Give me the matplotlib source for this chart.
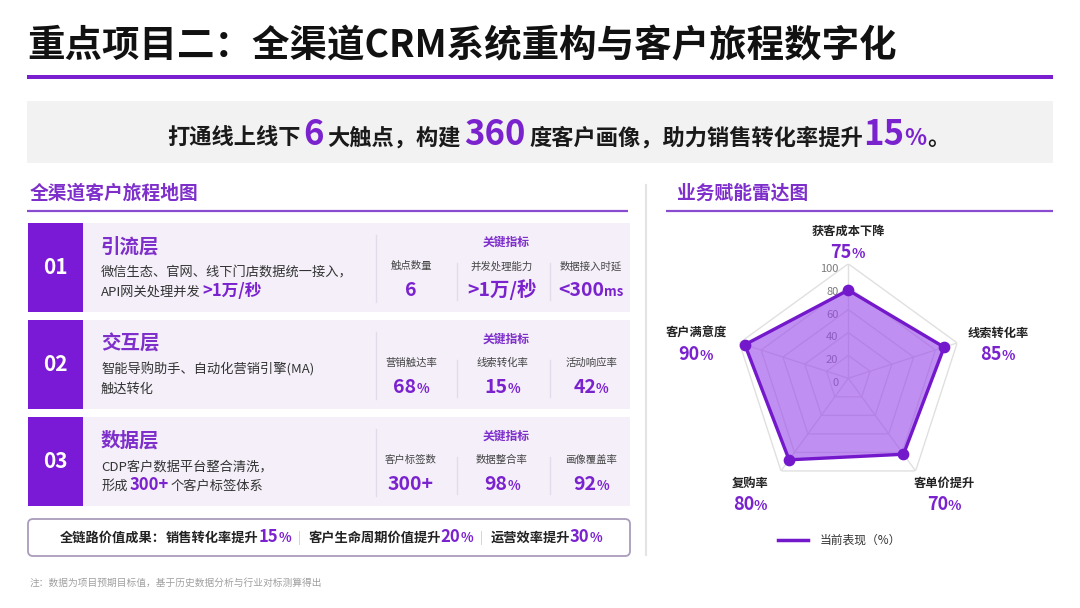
import numpy as np
import matplotlib
matplotlib.use("Agg")
import matplotlib.pyplot as plt
from matplotlib.patches import Rectangle, FancyBboxPatch
from matplotlib.transforms import ScaledTranslation

plt.rcParams['font.family'] = ['Noto Sans CJK SC', 'DejaVu Sans']

# ---------------- data ----------------
title = "重点项目二：全渠道CRM系统重构与客户旅程数字化"
touch_points = 6
profile_degree = 360
conversion_lift = 15

layer_nums = ["01", "02", "03"]
layer_names = ["引流层", "交互层", "数据层"]
layer_desc1 = ["微信生态、官网、线下门店数据统一接入，",
               "智能导购助手、自动化营销引擎(MA)",
               "CDP客户数据平台整合清洗，"]
layer_desc2 = [[("API网关处理并发", False), (">1万/秒", True)],
               [("触达转化", False)],
               [("形成", False), ("300+", True), ("个客户标签体系", False)]]
metric_labels = [["触点数量", "并发处理能力", "数据接入时延"],
                 ["营销触达率", "线索转化率", "活动响应率"],
                 ["客户标签数", "数据整合率", "画像覆盖率"]]
metric_values = [["6", ">1万/秒", "<300"],
                 ["68", "15", "42"],
                 ["300+", "98", "92"]]
metric_units = [["", "", "ms"],
                ["%", "%", "%"],
                ["", "%", "%"]]

summary_items = ["销售转化率提升", "客户生命周期价值提升", "运营效率提升"]
summary_values = [15, 20, 30]

radar_axes_labels = ["获客成本下降", "线索转化率", "客单价提升", "复购率", "客户满意度"]
radar_label_pct = [75, 85, 70, 80, 90]
radar_values = [77, 88, 82, 88, 95]
radar_ticks = [0, 20, 40, 60, 80, 100]
legend_label = "当前表现（%）"
footnote = "注：数据为项目预期目标值，基于历史数据分析与行业对标测算得出"

# ---------------- style ----------------
PURPLE = "#7B22CF"
PURPLE_T = "#7E2FCB"
BLOCK = "#7A1AD6"
PANEL = "#F4EFF9"
TXT = "#333333"
LINE = "#7418CC"

W, H = 1080, 608
fig = plt.figure(figsize=(10.8, 6.08), dpi=100)
fig.patch.set_facecolor("white")
bg = fig.add_axes([0, 0, 1, 1])
bg.set_xlim(0, W)
bg.set_ylim(H, 0)
bg.axis("off")
renderer = fig.canvas.get_renderer()


def runs(x, y, parts, ha="left", va="baseline", zorder=5):
    """parts: list of (text, kwargs, gap_after)"""
    objs, widths = [], []
    for p in parts:
        s, kw = p[0], p[1]
        t = bg.text(0, y, s, ha="left", va=va, zorder=zorder, **kw)
        objs.append(t)
        widths.append(t.get_window_extent(renderer).width)
    gaps = [p[2] if len(p) > 2 else 0 for p in parts]
    total = sum(widths) + sum(gaps[:-1])
    if ha == "center":
        cx = x - total / 2
    elif ha == "right":
        cx = x - total
    else:
        cx = x
    for t, w, g in zip(objs, widths, gaps):
        t.set_x(cx)
        cx += w + g
    return objs


# ---------------- title ----------------
bg.text(27, 46, title, fontsize=27, fontweight="heavy", color="#111111",
        ha="left", va="center")
bg.add_patch(Rectangle((27, 75), 1026, 4, color="#7A1FD0", lw=0))

# ---------------- banner ----------------
bg.add_patch(Rectangle((27, 101), 1026, 62, color="#F2F2F2", lw=0))
nb = dict(fontsize=16, fontweight="bold", color="#1A1A1A")
big = dict(fontsize=25, fontweight="bold", color=PURPLE)
pct = dict(fontsize=16.5, fontweight="bold", color=PURPLE)
runs(558, 145, [("打通线上线下", nb, 3), (str(touch_points), big, 3),
                ("大触点，构建", nb, 4), (str(profile_degree), big, 4),
                ("度客户画像，助力销售转化率提升", nb, 0),
                (str(conversion_lift), big, 0), ("%", pct, 0), ("。", nb)],
     ha="center")

# ---------------- section headers ----------------
bg.text(30, 193, "全渠道客户旅程地图", fontsize=13.5, fontweight="bold",
        color=PURPLE_T, ha="left", va="center")
bg.plot([27, 628], [211, 211], color="#8A4CCF", lw=1.6, solid_capstyle="butt")
bg.text(677, 193, "业务赋能雷达图", fontsize=13.5, fontweight="bold",
        color=PURPLE_T, ha="left", va="center")
bg.plot([666, 1053], [211, 211], color="#8A4CCF", lw=1.6, solid_capstyle="butt")
bg.plot([646, 646], [185, 555], color="#E4E4E4", lw=1.5)

# ---------------- layer rows ----------------
row_tops = [223, 320, 417]
row_h = 89
col_x = [411, 502, 591]
for i, t in enumerate(row_tops):
    bg.add_patch(Rectangle((83, t), 547, row_h, color=PANEL, lw=0, zorder=1))
    bg.add_patch(Rectangle((28, t), 55, row_h, color=BLOCK, lw=0, zorder=2))
    bg.text(55.5, t + row_h / 2, layer_nums[i], fontsize=15, fontweight="bold",
            color="white", ha="center", va="center", zorder=3)
    bg.text(101, t + 24, layer_names[i], fontsize=14, fontweight="bold",
            color=PURPLE_T, ha="left", va="center", zorder=3)
    bg.text(101, t + 54, layer_desc1[i], fontsize=9.5, color=TXT,
            ha="left", va="baseline", zorder=3)
    parts = []
    for s, hl in layer_desc2[i]:
        if hl:
            parts.append((s, dict(fontsize=12, fontweight="bold", color=PURPLE), 2))
        else:
            parts.append((s, dict(fontsize=9.5, color=TXT), 2))
    runs(101, t + 73, parts)
    # separators
    bg.plot([376, 376], [t + 12, t + 79], color="#E2DCEA", lw=1, zorder=3)
    for sx in [457, 550]:
        bg.plot([sx, sx], [t + 40, t + 77], color="#E2DCEA", lw=1, zorder=3)
    bg.text(506, t + 19, "关键指标", fontsize=8.5, fontweight="bold",
            color=PURPLE_T, ha="center", va="center", zorder=3)
    for j in range(3):
        bg.text(col_x[j], t + 43, metric_labels[i][j], fontsize=7.5,
                color="#444444", ha="center", va="center", zorder=3)
        p = [(metric_values[i][j], dict(fontsize=14, fontweight="bold", color=PURPLE), 0)]
        if metric_units[i][j]:
            p.append((metric_units[i][j], dict(fontsize=9.5, fontweight="bold",
                                               color=PURPLE), 0))
        runs(col_x[j], t + 73, p, ha="center")

# ---------------- summary box ----------------
bg.add_patch(FancyBboxPatch((28, 519), 602, 37,
                            boxstyle="round,pad=0,rounding_size=5",
                            fc="white", ec="#A99CBC", lw=1.3, zorder=2))
sb = dict(fontsize=9.5, fontweight="bold", color="#222222")
sv = dict(fontsize=12, fontweight="bold", color=PURPLE)
sp = dict(fontsize=9.5, fontweight="bold", color=PURPLE)
sep = dict(fontsize=9, color="#C8C8C8")
parts = [("全链路价值成果：", sb, 0)]
for k, (item, val) in enumerate(zip(summary_items, summary_values)):
    parts.append((item, sb, 0))
    parts.append((str(val), sv, 0))
    parts.append(("%", sp, 7 if k < 2 else 0))
    if k < 2:
        parts.append(("|", sep, 7))
runs(331, 542, parts, ha="center")

# ---------------- footnote ----------------
bg.text(30, 583, footnote, fontsize=7, color="#A0A0A0", ha="left", va="center")

# ---------------- radar ----------------
cx, cy, R = 848.3, 378.3, 114.5
rax = fig.add_axes([(cx - R) / W, (H - cy - R) / H, 2 * R / W, 2 * R / H],
                   projection="polar")
rax.set_theta_offset(np.pi / 2)
rax.set_theta_direction(-1)
rax.set_ylim(0, 100)
rax.set_facecolor("none")
rax.grid(False)
rax.spines["polar"].set_visible(False)
rax.set_xticks([])
rax.set_yticks([])

n = len(radar_axes_labels)
ang = np.linspace(0, 2 * np.pi, n, endpoint=False)
ang_c = np.concatenate([ang, ang[:1]])
for lv in radar_ticks[1:]:
    rax.plot(ang_c, [lv] * (n + 1), color="#E0E0E0", lw=1.0, zorder=1)
for a in ang:
    rax.plot([a, a], [0, 100], color="#E0E0E0", lw=1.0, zorder=1)

off = rax.transData + ScaledTranslation(-10 / 100, -5 / 100, fig.dpi_scale_trans)
for tv in radar_ticks:
    rax.text(0, tv, str(tv), transform=off, fontsize=8, color="#7A7A7A",
             ha="right", va="center", zorder=1.5)

vals = np.array(radar_values + radar_values[:1], dtype=float)
rax.fill(ang_c, vals, color="#9A4BEA", alpha=0.62, lw=0, zorder=2)
rax.plot(ang_c, vals, color=LINE, lw=2.4, zorder=3)
rax.scatter(ang, radar_values, s=55, color=LINE, zorder=4)

label_pos = [(848, 231), (998, 333), (944, 483), (750, 483), (696, 333)]
for (lx, ly), name, pv in zip(label_pos, radar_axes_labels, radar_label_pct):
    bg.text(lx, ly, name, fontsize=8.8, fontweight="bold", color="#222222",
            ha="center", va="center")
    runs(lx, ly + 27, [(str(pv), dict(fontsize=13, fontweight="bold", color=PURPLE), 0),
                       ("%", dict(fontsize=10, fontweight="bold", color=PURPLE), 0)],
         ha="center")

# legend
bg.plot([778, 808], [540, 540], color=LINE, lw=2.5)
bg.text(820, 540, legend_label, fontsize=8.5, color="#333333", ha="left", va="center")

fig.savefig("out.png", dpi=100)
